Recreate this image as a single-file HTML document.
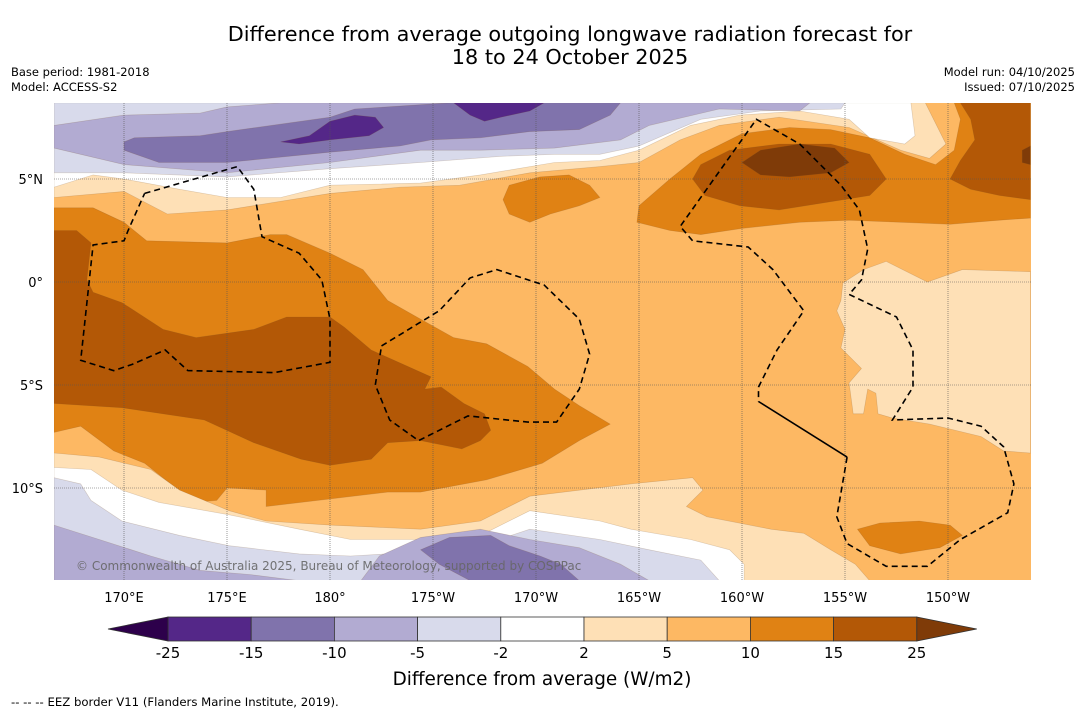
<!DOCTYPE html>
<html><head><meta charset="utf-8"><style>
body{margin:0;background:#fff;width:1085px;height:713px;overflow:hidden;font-family:"DejaVu Sans","Liberation Sans",sans-serif;}
svg{position:absolute;left:0;top:0}
</style></head><body>
<svg id="chart" width="1085" height="713" viewBox="0 0 1085 713">
<text x="570" y="41" text-anchor="middle" font-size="20.8" fill="#000">Difference from average outgoing longwave radiation forecast for</text>
<text x="570" y="64" text-anchor="middle" font-size="20.8" fill="#000">18 to 24 October 2025</text>
<text x="11" y="76" font-size="11.5">Base period: 1981-2018</text>
<text x="11" y="91" font-size="11.5">Model: ACCESS-S2</text>
<text x="1075" y="76" font-size="11.5" text-anchor="end">Model run: 04/10/2025</text>
<text x="1075" y="91" font-size="11.5" text-anchor="end">Issued: 07/10/2025</text>
<clipPath id="mapclip"><rect x="54" y="103" width="977" height="477"/></clipPath>
<g id="map" clip-path="url(#mapclip)"></g>
<g id="axes"></g>
<g id="cbar"></g>
<text x="542" y="685" text-anchor="middle" font-size="18.4">Difference from average (W/m2)</text>
<text x="11" y="706" font-size="11.7">--  --  -- EEZ border V11 (Flanders Marine Institute, 2019).</text>
</svg>
<script>
// ---- data (lon in degrees east, 166.6..214; lat in degrees) ----
const lonTicks=[170,175,180,185,190,195,200,205,210];
const lonTickLabels=["170°E","175°E","180°","175°W","170°W","165°W","160°W","155°W","150°W"];
const latTicks=[5,0,-5,-10];
const latTickLabels=["5°N","0°","5°S","10°S"];
const levels=[-25,-15,-10,-5,-2,2,5,10,15,25];
const levelColors=["#542788","#8073ac","#b2abd2","#d8daeb","#ffffff","#fee0b6","#fdb863","#e08214","#b35806"];
const underColor="#2d004b", overColor="#7f3b08";
const baseLevel=6; // 5..10 background
const capLight=[[166.6,8.7],[208.9,8.7],[209.9,6.7],[209.1,6.0],[207.7,6.4],[205.2,7.5],[201.8,8.0],[198.9,7.6],[197.0,6.9],[195.0,5.8],[193.1,5.6],[189.7,5.3],[186.3,4.7],[183.4,4.6],[180.0,4.3],[175.0,3.5],[172.1,3.3],[170.0,4.4],[166.6,4.1]];
const capWhite=[[166.6,8.7],[208.2,8.7],[208.4,7.1],[207.9,6.7],[206.2,7.0],[205.2,7.9],[202.8,8.3],[199.9,8.1],[197.5,7.6],[195.0,6.4],[193.1,5.9],[190.9,5.8],[187.3,5.2],[184.4,4.8],[180.0,4.7],[177.6,4.1],[175.0,4.1],[172.7,4.5],[170.0,5.0],[168.5,5.2],[166.6,4.6]];
const capLav=[[166.6,8.7],[205.0,8.7],[204.8,8.4],[200.9,8.3],[198.0,7.9],[195.0,6.6],[193.1,6.2],[190.9,6.2],[188.3,6.1],[184.4,5.8],[180.0,5.5],[175.0,5.1],[170.0,5.3],[166.6,5.3]];
const capMid=[[166.6,7.6],[170.0,8.1],[173.7,8.2],[175.0,8.5],[177.6,8.7],[203.3,8.7],[202.8,8.3],[198.9,8.4],[195.5,7.6],[194.1,6.9],[190.9,6.5],[187.3,6.4],[184.4,6.4],[180.0,5.8],[175.0,5.3],[170.0,5.7],[166.6,6.5]];
const capDark=[[170.0,6.8],[170.5,7.0],[173.7,7.1],[175.0,7.3],[180.0,8.0],[181.2,8.4],[185.8,8.7],[194.1,8.7],[193.6,8.1],[192.1,7.4],[189.7,7.3],[187.3,7.0],[184.9,6.9],[183.4,6.6],[180.0,6.3],[175.0,5.8],[171.7,5.8],[170.0,6.4]];
const darkest1=[[177.6,6.8],[179.0,7.1],[180.0,7.8],[181.2,8.1],[182.2,8.0],[182.6,7.5],[181.9,7.1],[180.0,6.9],[178.5,6.7]];
const darkest2=[[186.0,8.7],[190.4,8.7],[189.7,8.3],[188.3,8.0],[187.5,7.8],[186.8,8.1]];
const hill=[[194.9,2.9],[195.0,3.7],[196.5,5.0],[198.0,6.2],[200.0,7.2],[202.3,7.5],[204.3,7.4],[206.2,7.0],[207.9,6.2],[209.4,5.7],[210.3,6.4],[210.6,7.9],[210.3,8.7],[214.0,8.7],[214.0,3.1],[212.5,3.0],[210.1,2.8],[207.7,2.9],[205.2,3.0],[202.8,2.9],[200.0,2.6],[198.0,2.3],[196.5,2.5]];
const hillBrown=[[197.6,5.0],[198.0,5.7],[199.4,6.4],[201.8,6.7],[204.3,6.7],[206.2,6.2],[207.0,5.0],[206.2,4.2],[204.3,3.9],[201.8,3.5],[199.9,3.7],[198.2,4.2]];
const rightBrown=[[210.6,8.7],[214.0,8.7],[214.0,4.0],[212.5,4.2],[211.1,4.5],[210.1,5.0],[210.6,5.9],[211.3,6.9],[211.1,7.9]];
const peak=[[200.0,5.8],[200.9,6.4],[202.8,6.7],[204.5,6.5],[205.2,5.8],[204.3,5.3],[202.3,5.1],[200.9,5.2]];
const peakRight=[[213.6,6.4],[214,6.6],[214,5.7],[213.6,5.8]];
const patchNorth=[[188.4,4.0],[188.7,4.7],[190.2,5.1],[191.6,5.2],[192.6,4.7],[193.1,4.1],[192.1,3.7],[190.7,3.3],[189.7,2.9],[188.7,3.3]];
const mainOrange=[[166.6,3.6],[168.5,3.6],[170.0,2.9],[171.1,2.0],[175.0,1.9],[177.1,2.3],[177.9,2.3],[180.0,1.4],[181.6,0.6],[182.8,-0.9],[184.4,-1.8],[186.0,-2.7],[187.6,-3.0],[189.6,-4.1],[190.9,-5.2],[192.1,-6.0],[193.6,-6.9],[192.1,-7.7],[190.3,-8.8],[187.6,-9.6],[184.4,-10.2],[182.8,-10.2],[176.9,-10.9],[176.9,-10.1],[175.0,-10.0],[174.5,-10.6],[173.4,-10.7],[171.0,-8.8],[169.5,-8.2],[167.9,-7.0],[166.6,-7.3]];
const mainBrown=[[166.6,2.5],[167.7,2.5],[168.4,1.9],[168.2,0.1],[168.5,-0.5],[169.9,-1.0],[171.9,-2.3],[173.5,-2.7],[176.3,-2.3],[177.9,-1.7],[180.0,-1.7],[180.7,-2.2],[182.0,-3.3],[184.9,-4.6],[184.6,-5.2],[185.4,-5.1],[186.5,-5.9],[187.5,-6.4],[187.8,-7.2],[187.3,-7.7],[186.4,-8.1],[184.4,-7.7],[182.8,-7.8],[182.0,-8.6],[180.0,-8.9],[178.6,-8.6],[176.3,-7.8],[173.9,-6.7],[169.9,-6.1],[166.6,-5.9]];
const botLight=[[166.6,-8.3],[168.8,-8.5],[171.3,-9.1],[172.7,-10.1],[175.1,-11.1],[176.9,-11.6],[180.0,-11.8],[184.4,-12.0],[187.3,-11.6],[189.7,-10.4],[194.6,-9.8],[197.6,-9.5],[198.1,-10.1],[197.3,-10.9],[198.3,-11.4],[201.4,-12.0],[203.0,-12.2],[204.3,-13.0],[205.5,-13.7],[206.2,-14.5],[166.6,-14.5]];
const botWhite=[[166.6,-9.0],[168.4,-9.1],[169.9,-10.1],[171.7,-10.7],[175.1,-11.3],[178.5,-12.0],[181.0,-12.5],[184.4,-12.5],[187.3,-12.3],[189.7,-11.1],[193.1,-11.6],[194.6,-12.0],[197.5,-12.5],[199.4,-13.0],[200.1,-13.7],[200.1,-14.5],[166.6,-14.5]];
const botLav=[[166.6,-9.5],[167.9,-9.8],[168.4,-10.6],[169.9,-11.6],[172.7,-12.3],[175.1,-12.8],[178.5,-13.2],[181.0,-13.3],[184.4,-13.1],[187.3,-12.8],[189.7,-12.0],[193.1,-12.5],[195.5,-13.0],[198.0,-13.5],[198.9,-14.5],[166.6,-14.5]];
const botMidLeft=[[166.6,-11.8],[168.8,-12.5],[171.3,-13.3],[173.7,-14.0],[176.1,-14.2],[178.5,-14.5],[166.6,-14.5]];
const botMidCenter=[[181.5,-14.5],[182.4,-13.3],[184.4,-12.4],[187.3,-12.0],[189.7,-12.5],[192.1,-12.9],[194.1,-13.7],[195.5,-14.5]];
const botDark=[[184.4,-13.0],[185.8,-12.4],[187.8,-12.3],[188.7,-12.8],[190.2,-13.3],[191.2,-13.7],[192.1,-14.5],[186.8,-14.5],[185.3,-13.7]];
const blobSE=[[205.6,-12.0],[206.7,-11.7],[208.6,-11.6],[210.1,-11.8],[210.7,-12.3],[209.6,-12.9],[207.7,-13.2],[206.2,-12.8]];
const eastLight=[[214.0,0.5],[210.7,0.6],[209.0,0.0],[207.0,1.0],[205.9,0.6],[204.9,-0.05],[204.8,-0.9],[204.6,-1.4],[205.0,-2.3],[204.8,-3.2],[205.5,-3.9],[205.8,-4.2],[205.2,-4.9],[205.4,-6.4],[205.9,-6.4],[206.1,-5.2],[206.5,-5.4],[206.6,-6.4],[207.3,-6.6],[209.1,-6.9],[211.6,-7.5],[212.7,-8.2],[214.0,-8.3]];
const regions=[
 [5,capLight,"cap-2to5-north"],[4,capWhite,"cap-near-zero-north"],[3,capLav,"cap-minus5-north"],[2,capMid,"cap-minus10-north"],[1,capDark,"band-minus15-north"],[0,darkest1,"patch-minus25-a"],[0,darkest2,"patch-minus25-b"],
 [7,hill,"region-10to15-northeast"],[8,hillBrown,"region-15to25-northeast"],[8,rightBrown,"region-15to25-east-edge"],[9,peak,"region-over25"],[9,peakRight,"region-over25-edge"],[7,patchNorth,"patch-10to15-north"],
 [7,mainOrange,"region-10to15-main"],[8,mainBrown,"region-15to25-main"],
 [5,botLight,"cap-2to5-south"],[4,botWhite,"cap-near-zero-south"],[3,botLav,"cap-minus5-south"],[2,botMidLeft,"patch-minus10-southwest"],[2,botMidCenter,"patch-minus10-south"],[1,botDark,"patch-minus15-south"],
 [7,blobSE,"patch-10to15-southeast"],[5,eastLight,"region-2to5-east"]
];
const eezA=[[171.0,4.3],[175.5,5.6],[176.3,4.5],[176.7,2.2],[178.5,1.4],[179.6,0.1],[180.0,-1.8],[180.0,-3.9],[177.3,-4.4],[173.1,-4.3],[172.0,-3.3],[170.4,-4.0],[169.5,-4.3],[167.9,-3.8],[168.5,1.8],[170.0,2.0],[170.2,2.5],[171.0,4.3]];
const eezB=[[182.5,-3.1],[185.3,-1.4],[186.8,0.2],[188.1,0.6],[190.4,-0.15],[192.1,-1.8],[192.6,-3.5],[192.1,-5.2],[191.0,-6.8],[189.6,-6.8],[186.7,-6.5],[184.3,-7.7],[182.9,-6.7],[182.2,-5.0],[182.5,-3.1]];
const eezC=[[205.1,-8.5],[204.6,-11.4],[205.1,-12.7],[207.0,-13.8],[209.0,-13.8],[210.6,-12.5],[212.9,-11.2],[213.2,-9.8],[212.7,-8.0],[211.6,-7.0],[210.0,-6.6],[207.3,-6.7],[208.3,-5.1],[208.3,-3.3],[207.5,-1.7],[205.2,-0.6],[205.8,0.1],[206.1,1.6],[205.7,3.5],[204.8,4.7],[203.8,5.7],[202.8,6.7],[200.7,7.9],[197.0,2.7],[197.6,2.0],[200.3,1.7],[201.5,0.6],[203.0,-1.4],[201.7,-3.3],[200.8,-5.1],[200.8,-5.8]];
const eezSolid=[[200.8,-5.8],[205.1,-8.5]];

// ---- axes ----
const X0=124,LON0=170,PX=20.6,Y0=282;
function xOf(lon){return X0+(lon-LON0)*PX;}
function yOf(lat){return Y0-lat*PX;}
const NS="http://www.w3.org/2000/svg";
function mk(tag,attrs,parent){const e=document.createElementNS(NS,tag);for(const k in attrs)e.setAttribute(k,attrs[k]);parent.appendChild(e);return e;}
function pts(poly){return poly.map(p=>xOf(p[0]).toFixed(1)+","+yOf(p[1]).toFixed(1)).join(" ");}
const map=document.getElementById('map');
const bg=mk('rect',{x:54,y:103,width:977,height:477,fill:levelColors[baseLevel]},map);


regions.forEach(r=>{
 const fill=r[0]===9?overColor:levelColors[r[0]];
 const p=mk('polygon',{points:pts(r[1]),fill:fill,stroke:"rgba(120,80,40,0.25)","stroke-width":0.6},map);
 
 
});
lonTicks.forEach(l=>{const g=mk('line',{x1:xOf(l),x2:xOf(l),y1:103,y2:580,stroke:"#555","stroke-width":0.6,"stroke-dasharray":"1,1"},map);
 
 });
latTicks.forEach(l=>{const g=mk('line',{x1:54,x2:1031,y1:yOf(l),y2:yOf(l),stroke:"#555","stroke-width":0.6,"stroke-dasharray":"1,1"},map);
 
 });
[eezA,eezB,eezC].forEach(e=>{const l=mk('polyline',{points:pts(e),fill:"none",stroke:"#000","stroke-width":1.6,"stroke-dasharray":"6,4"},map);
 
 });
const sl=mk('polyline',{points:pts(eezSolid),fill:"none",stroke:"#000","stroke-width":1.6},map);


const cp=mk('text',{x:76,y:570,"font-size":12,fill:"#666","fill-opacity":0.9},map);
cp.textContent="© Commonwealth of Australia 2025, Bureau of Meteorology, supported by COSPPac";


const axes=document.getElementById('axes');
lonTicks.forEach((l,i)=>{const t=mk('text',{x:xOf(l),y:602,"text-anchor":"middle","font-size":13},axes);t.textContent=lonTickLabels[i];
 
 });
latTicks.forEach((l,i)=>{const t=mk('text',{x:43,y:yOf(l)+5,"text-anchor":"end","font-size":13},axes);t.textContent=latTickLabels[i];
 
 });
const cb=document.getElementById('cbar');
const CB0=168,CBW=83.2,CBY=617,CBH=24;
levelColors.forEach((c,i)=>{const r=mk('rect',{x:CB0+i*CBW,y:CBY,width:CBW,height:CBH,fill:c,stroke:"#333","stroke-width":0.8},cb);
 
 });
const tl=mk('polygon',{points:`${CB0},${CBY} 108,${CBY+CBH/2} ${CB0},${CBY+CBH}`,fill:underColor,stroke:"#333","stroke-width":0.8},cb);


const xe=CB0+levelColors.length*CBW;
const tr=mk('polygon',{points:`${xe},${CBY} ${xe+60},${CBY+CBH/2} ${xe},${CBY+CBH}`,fill:overColor,stroke:"#333","stroke-width":0.8},cb);


levels.forEach((v,i)=>{const t=mk('text',{x:CB0+i*CBW,y:658,"text-anchor":"middle","font-size":15},cb);t.textContent=String(v);
 
 });
</script>
</body></html>
